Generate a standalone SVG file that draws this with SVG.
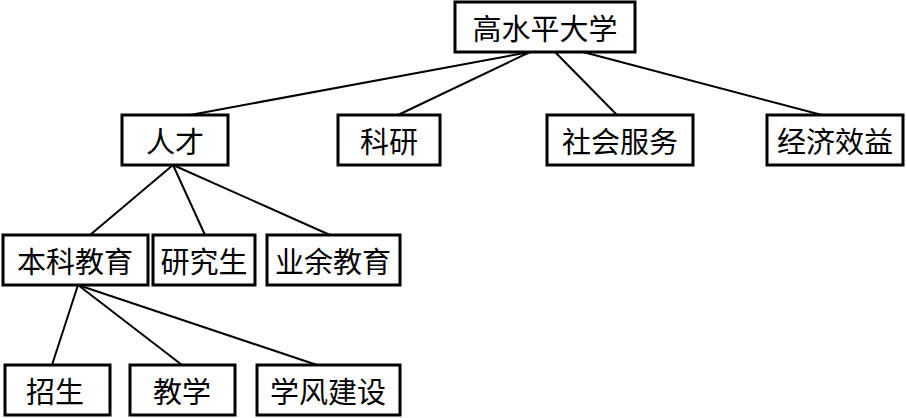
<svg xmlns="http://www.w3.org/2000/svg" width="906" height="418" viewBox="0 0 906 418">
<style>
.box{fill:#fff;stroke:#000;stroke-width:3}
.lbl{font-family:"Noto Sans CJK SC","Noto Sans CJK JP",sans-serif;font-size:29px;fill:#000;text-anchor:middle;dominant-baseline:central}
.ln{stroke:#000;stroke-width:2;fill:none}
</style>
<rect width="906" height="418" fill="#fff"/>
<g id="connectors">
<line class="ln" x1="530" y1="52" x2="190" y2="115"/>
<line class="ln" x1="530" y1="52" x2="398" y2="115"/>
<line class="ln" x1="555" y1="52" x2="617" y2="115"/>
<line class="ln" x1="583" y1="52" x2="822" y2="115"/>
<line class="ln" x1="173" y1="165" x2="90" y2="235"/>
<line class="ln" x1="173" y1="165" x2="205" y2="235"/>
<line class="ln" x1="173" y1="165" x2="330" y2="235"/>
<line class="ln" x1="78" y1="285" x2="52" y2="365"/>
<line class="ln" x1="78" y1="285" x2="182" y2="365"/>
<line class="ln" x1="78" y1="285" x2="317" y2="365"/>
</g>
<g id="n-top"><rect class="box" x="455" y="2" width="180" height="50"/><text class="lbl" x="545" y="27">高水平大学</text></g>
<g id="n-rencai"><rect class="box" x="122" y="115" width="106" height="50"/><text class="lbl" x="175" y="140">人才</text></g>
<g id="n-keyan"><rect class="box" x="338" y="115" width="102" height="50"/><text class="lbl" x="389" y="140">科研</text></g>
<g id="n-shehui"><rect class="box" x="547" y="115" width="146" height="50"/><text class="lbl" x="620" y="140">社会服务</text></g>
<g id="n-jingji"><rect class="box" x="767" y="115" width="136" height="50"/><text class="lbl" x="835" y="140">经济效益</text></g>
<g id="n-benke"><rect class="box" x="3" y="235" width="145" height="50"/><text class="lbl" x="75" y="260">本科教育</text></g>
<g id="n-yanjiu"><rect class="box" x="153" y="235" width="102" height="50"/><text class="lbl" x="204" y="260">研究生</text></g>
<g id="n-yeyu"><rect class="box" x="267" y="235" width="133" height="50"/><text class="lbl" x="333" y="260">业余教育</text></g>
<g id="n-zhaosheng"><rect class="box" x="5" y="365" width="105" height="50"/><text class="lbl" x="55" y="390">招生</text></g>
<g id="n-jiaoxue"><rect class="box" x="130" y="365" width="105" height="50"/><text class="lbl" x="182" y="390">教学</text></g>
<g id="n-xuefeng"><rect class="box" x="257" y="365" width="143" height="50"/><text class="lbl" x="328" y="390">学风建设</text></g>
</svg>
